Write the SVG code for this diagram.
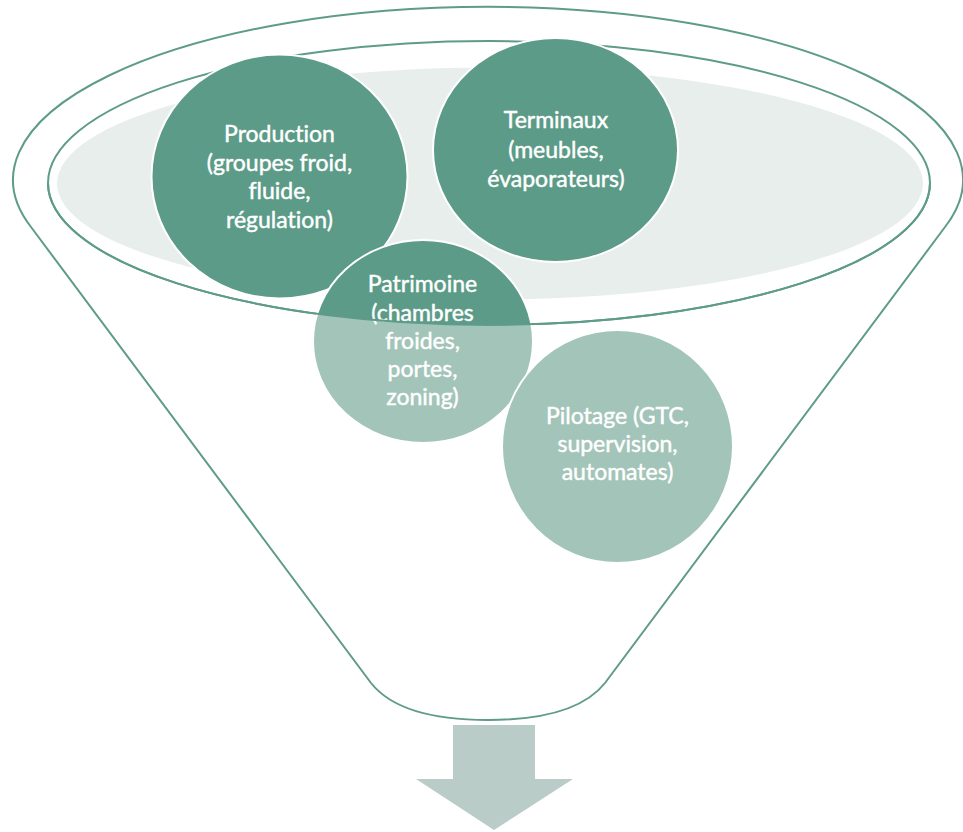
<svg xmlns="http://www.w3.org/2000/svg" width="963" height="832" viewBox="0 0 963 832">
  <style>
    .line { fill: none; stroke: #5e9b8a; stroke-width: 2; }
    .dark { fill: #5b9b87; stroke: #ffffff; stroke-width: 2; }
    .light { fill: #a3c4b9; stroke: #ffffff; stroke-width: 2; }
    .lbl { font-family: Lato, "Open Sans", "Liberation Sans", sans-serif; font-size: 23px; fill: #ffffff; stroke: #ffffff; stroke-width: 0.45; text-anchor: middle; font-variant-ligatures: none; }
  </style>
  <defs>
    <clipPath id="frontClip">
      <path d="M0,183 L48,183 A441 142 0 0 0 930,183 L963,183 L963,832 L0,832 Z"/>
    </clipPath>
  </defs>
  <rect width="963" height="832" fill="#ffffff"/>

  <g id="funnel-back">
    <path class="line" d="M31,227 A475 173 0 1 1 945,227 L605,683 C582,712 536,720 488,720 C440,720 394,712 371,683 Z"/>
    <ellipse cx="490" cy="183.5" rx="433" ry="116" fill="#e8eeec"/>
    <ellipse class="line" cx="489" cy="183" rx="441" ry="142"/>
  </g>

  <g id="node-production">
    <ellipse class="dark" cx="279.5" cy="176.5" rx="128" ry="122"/>
    <text class="lbl" x="279.5" y="142">Production</text>
    <text class="lbl" x="279.5" y="170.5">(groupes froid,</text>
    <text class="lbl" x="279.5" y="199">fluide,</text>
    <text class="lbl" x="279.5" y="227.5">régulation)</text>
  </g>

  <g id="node-terminaux">
    <ellipse class="dark" cx="555.5" cy="150" rx="122.5" ry="112"/>
    <text class="lbl" x="556" y="128">Terminaux</text>
    <text class="lbl" x="556" y="157.5">(meubles,</text>
    <text class="lbl" x="556" y="187">évaporateurs)</text>
  </g>

  <g id="node-patrimoine">
    <ellipse class="dark" cx="423" cy="341.5" rx="110" ry="101.5"/>
    <ellipse class="light" cx="423" cy="341.5" rx="110" ry="101.5" clip-path="url(#frontClip)"/>
    <text class="lbl" x="422.5" y="291.5">Patrimoine</text>
    <text class="lbl" x="422.5" y="320.5">(chambres</text>
    <text class="lbl" x="422.5" y="349">froides,</text>
    <text class="lbl" x="422.5" y="377">portes,</text>
    <text class="lbl" x="422.5" y="405">zoning)</text>
  </g>

  <g id="node-pilotage">
    <ellipse class="light" cx="617.5" cy="446.5" rx="115.5" ry="116.5"/>
    <text class="lbl" x="617.5" y="423.5">Pilotage (GTC,</text>
    <text class="lbl" x="617.5" y="451.5">supervision,</text>
    <text class="lbl" x="617.5" y="480">automates)</text>
  </g>

  <g id="funnel-front">
    <path class="line" d="M48,183 A441 142 0 0 0 930,183"/>
  </g>

  <g id="connectors">
    <polygon points="453,725 535,725 535,779 573,779 494,830 416,779 453,779" fill="#b9ccc8"/>
  </g>
</svg>
